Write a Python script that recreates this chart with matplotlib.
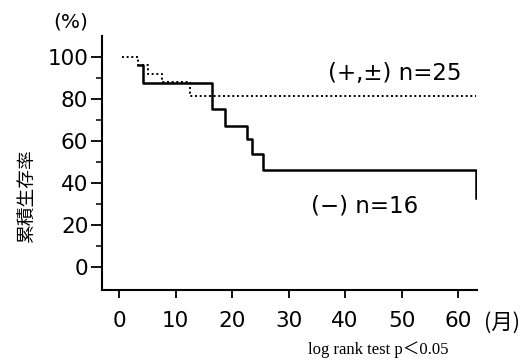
import matplotlib.pyplot as plt

# survival curves (months, %)
neg_t = [3.3, 4.3, 16.5, 18.8, 22.6, 23.5, 25.4, 63.2]
neg_s = [96, 87.5, 75, 67, 61, 54, 46, 33]
pos_t = [0.5, 3.4, 5.2, 7.6, 12.6, 63.2]
pos_s = [100, 96, 92, 88, 81.5, 81.5]

xticks = [0, 10, 20, 30, 40, 50, 60]
yticks = [0, 20, 40, 60, 80, 100]

fig = plt.figure(figsize=(5.32, 3.63), dpi=100)
ax = fig.add_axes([0.192, 0.201, 0.705, 0.70])

ax.step(pos_t, pos_s, where='post', color='black', lw=1.4, ls=(0, (1, 1.4)))
ax.step(neg_t, neg_s, where='post', color='black', lw=1.8)

ax.set_xlim(-3, 63.4)
ax.set_ylim(-11, 110)
for s in ['top', 'right']:
    ax.spines[s].set_visible(False)
for s in ['left', 'bottom']:
    ax.spines[s].set_linewidth(1.5)

ax.set_xticks(xticks)
ax.set_yticks(yticks)
ax.set_yticks([10, 30, 50, 70, 90], minor=True)
ax.tick_params(axis='y', which='major', length=8, width=1.3, pad=2, labelsize=15.5)
ax.tick_params(axis='y', which='minor', length=4, width=1.1)
ax.tick_params(axis='x', length=6, width=1.3, pad=9, labelsize=15.5)

ax.text(48.8, 92, '(+,±) n=25', fontsize=16.5, ha='center', va='center')
ax.text(43.5, 29, '(−) n=16', fontsize=16.5, ha='center', va='center')

fig.text(0.132, 0.94, '(%)', fontsize=14.5, ha='center', va='center')
fig.text(0.049, 0.46, '累積生存率', fontsize=13.5, rotation=90, ha='center', va='center',
         family=['Noto Sans CJK JP', 'DejaVu Sans'])
fig.text(0.944, 0.11, '(月)', fontsize=15.5, ha='center', va='center',
         family=['Noto Sans CJK JP', 'DejaVu Sans'])
fig.text(0.711, 0.036, 'log rank test p＜0.05', fontsize=12, ha='center', va='center',
         family=['Liberation Serif', 'Noto Sans CJK JP'])

fig.savefig('out.png', dpi=100)
